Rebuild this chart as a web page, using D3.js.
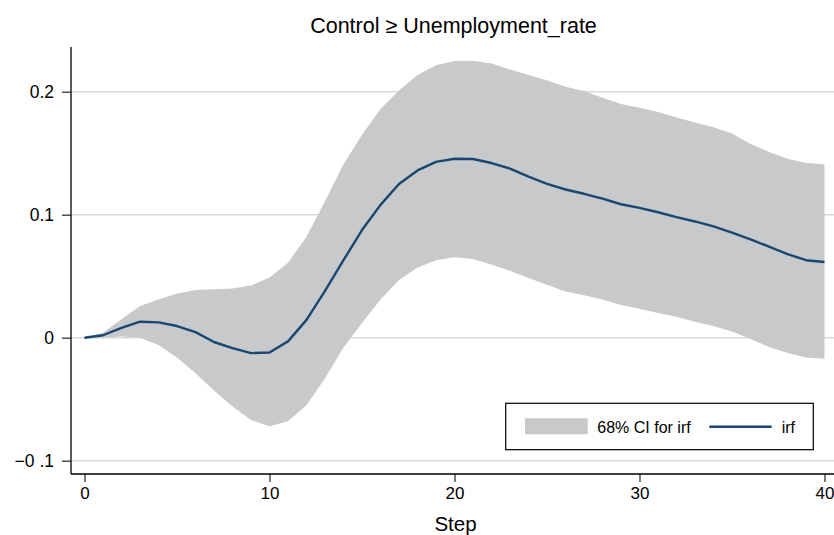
<!DOCTYPE html>
<html>
<head>
<meta charset="utf-8">
<script src="https://cdn.jsdelivr.net/npm/d3@7"></script>
<style>
  body { margin: 0; background: #fff; }
  svg { display: block; font-family: "Liberation Sans", Arial, sans-serif; }
</style>
</head>
<body>
<svg width="834" height="535"></svg>
<script>
// impulse response, step 0..40
const steps = d3.range(0, 41);
const irf = [0, 0.002, 0.008, 0.013, 0.0125, 0.0095, 0.0045, -0.0035, -0.0085, -0.0125,
  -0.012, -0.003, 0.0145, 0.038, 0.063, 0.0875, 0.108, 0.125, 0.136, 0.143,
  0.1455, 0.1453, 0.142, 0.1375, 0.131, 0.125, 0.1205, 0.117, 0.113, 0.1085,
  0.1055, 0.102, 0.098, 0.0945, 0.0905, 0.0855, 0.080, 0.074, 0.068, 0.063, 0.0615];
const upper = [0, 0.004, 0.015, 0.0257, 0.031, 0.036, 0.0387, 0.0393, 0.040, 0.0425,
  0.049, 0.061, 0.082, 0.111, 0.141, 0.165, 0.186, 0.201, 0.2135, 0.2216,
  0.225, 0.2252, 0.223, 0.218, 0.2135, 0.2094, 0.204, 0.2005, 0.195, 0.190,
  0.187, 0.1835, 0.179, 0.175, 0.171, 0.166, 0.1575, 0.151, 0.1455, 0.142, 0.141];
const lower = [0, 0, 0.001, 0, -0.006, -0.016, -0.029, -0.043, -0.056, -0.067,
  -0.072, -0.068, -0.055, -0.033, -0.008, 0.012, 0.031, 0.047, 0.057, 0.063,
  0.0655, 0.064, 0.0595, 0.0545, 0.0485, 0.043, 0.0375, 0.0345, 0.031, 0.0265,
  0.0235, 0.020, 0.017, 0.013, 0.0095, 0.005, -0.001, -0.0075, -0.0125, -0.016, -0.0172];

const xTicks = [0, 10, 20, 30, 40];
const yTicks = [-0.1, 0, 0.1, 0.2];
const yTickLabels = ["\u22120 .1", "0", "0.1", "0.2"];

const rows = steps.map((s, i) => ({ step: s, irf: irf[i], lo: lower[i], hi: upper[i] }));

const svg = d3.select("svg");

const plotLeft = 71, plotRight = 834, plotTop = 47, plotBottom = 474;

const x = d3.scaleLinear().domain([0, 40]).range([84.5, 824.5]);
const y = d3.scaleLinear().domain([-0.1, 0.2]).range([460.7, 91.7]);

// grid lines
svg.append("g")
  .selectAll("line")
  .data(yTicks)
  .join("line")
  .attr("x1", plotLeft)
  .attr("x2", plotRight)
  .attr("y1", (d) => y(d))
  .attr("y2", (d) => y(d))
  .attr("stroke", "#dadada")
  .attr("stroke-width", 1.4);

// CI band
svg.append("path")
  .datum(rows)
  .attr("fill", "#c8c9cb")
  .attr("d", d3.area()
    .x((d) => x(d.step))
    .y0((d) => y(d.lo))
    .y1((d) => y(d.hi)));

// irf line
svg.append("path")
  .datum(rows)
  .attr("fill", "none")
  .attr("stroke", "#1a476f")
  .attr("stroke-width", 2.4)
  .attr("stroke-linejoin", "round")
  .attr("d", d3.line()
    .x((d) => x(d.step))
    .y((d) => y(d.irf)));

// y axis
const yAxis = svg.append("g")
  .attr("transform", `translate(${plotLeft},0)`)
  .call(d3.axisLeft(y)
    .tickValues(yTicks)
    .tickFormat((d, i) => yTickLabels[i])
    .tickSize(9)
    .tickPadding(8));
yAxis.select(".domain").remove();
yAxis.append("line")
  .attr("x1", 0).attr("x2", 0)
  .attr("y1", plotTop).attr("y2", plotBottom)
  .attr("stroke", "#000").attr("stroke-width", 1.3);
yAxis.selectAll(".tick line").attr("stroke", "#333").attr("stroke-width", 1.3);
yAxis.selectAll(".tick text")
  .attr("font-size", 17.5)
  .attr("fill", "#000")
  .attr("font-family", "Liberation Sans, Arial, sans-serif");

// x axis
const xAxis = svg.append("g")
  .attr("transform", `translate(0,${plotBottom})`)
  .call(d3.axisBottom(x)
    .tickValues(xTicks)
    .tickFormat(d3.format("d"))
    .tickSize(8)
    .tickPadding(5));
xAxis.select(".domain").remove();
xAxis.append("line")
  .attr("x1", plotLeft).attr("x2", plotRight)
  .attr("y1", 0).attr("y2", 0)
  .attr("stroke", "#000").attr("stroke-width", 1.3);
xAxis.selectAll(".tick line").attr("stroke", "#333").attr("stroke-width", 1.3);
xAxis.selectAll(".tick text")
  .attr("font-size", 17)
  .attr("fill", "#000")
  .attr("font-family", "Liberation Sans, Arial, sans-serif");

// titles
svg.append("text")
  .attr("x", 453.5)
  .attr("y", 33)
  .attr("text-anchor", "middle")
  .attr("font-size", 21.5)
  .text("Control \u2265 Unemployment_rate");

svg.append("text")
  .attr("x", 455.5)
  .attr("y", 531)
  .attr("text-anchor", "middle")
  .attr("font-size", 20.5)
  .text("Step");

// legend
const legend = svg.append("g");
legend.append("rect")
  .attr("x", 505.7).attr("y", 403.3)
  .attr("width", 307.6).attr("height", 46.4)
  .attr("fill", "#fff")
  .attr("stroke", "#000")
  .attr("stroke-width", 1.2);
legend.append("rect")
  .attr("x", 525).attr("y", 418.3)
  .attr("width", 62.7).attr("height", 16)
  .attr("fill", "#c8c9cb");
legend.append("text")
  .attr("x", 597.3).attr("y", 432.5)
  .attr("font-size", 16)
  .text("68% CI for irf");
legend.append("line")
  .attr("x1", 709.3).attr("x2", 771.7)
  .attr("y1", 426.7).attr("y2", 426.7)
  .attr("stroke", "#1a476f")
  .attr("stroke-width", 2.4);
legend.append("text")
  .attr("x", 781.7).attr("y", 432.5)
  .attr("font-size", 16)
  .text("irf");
</script>
</body>
</html>
